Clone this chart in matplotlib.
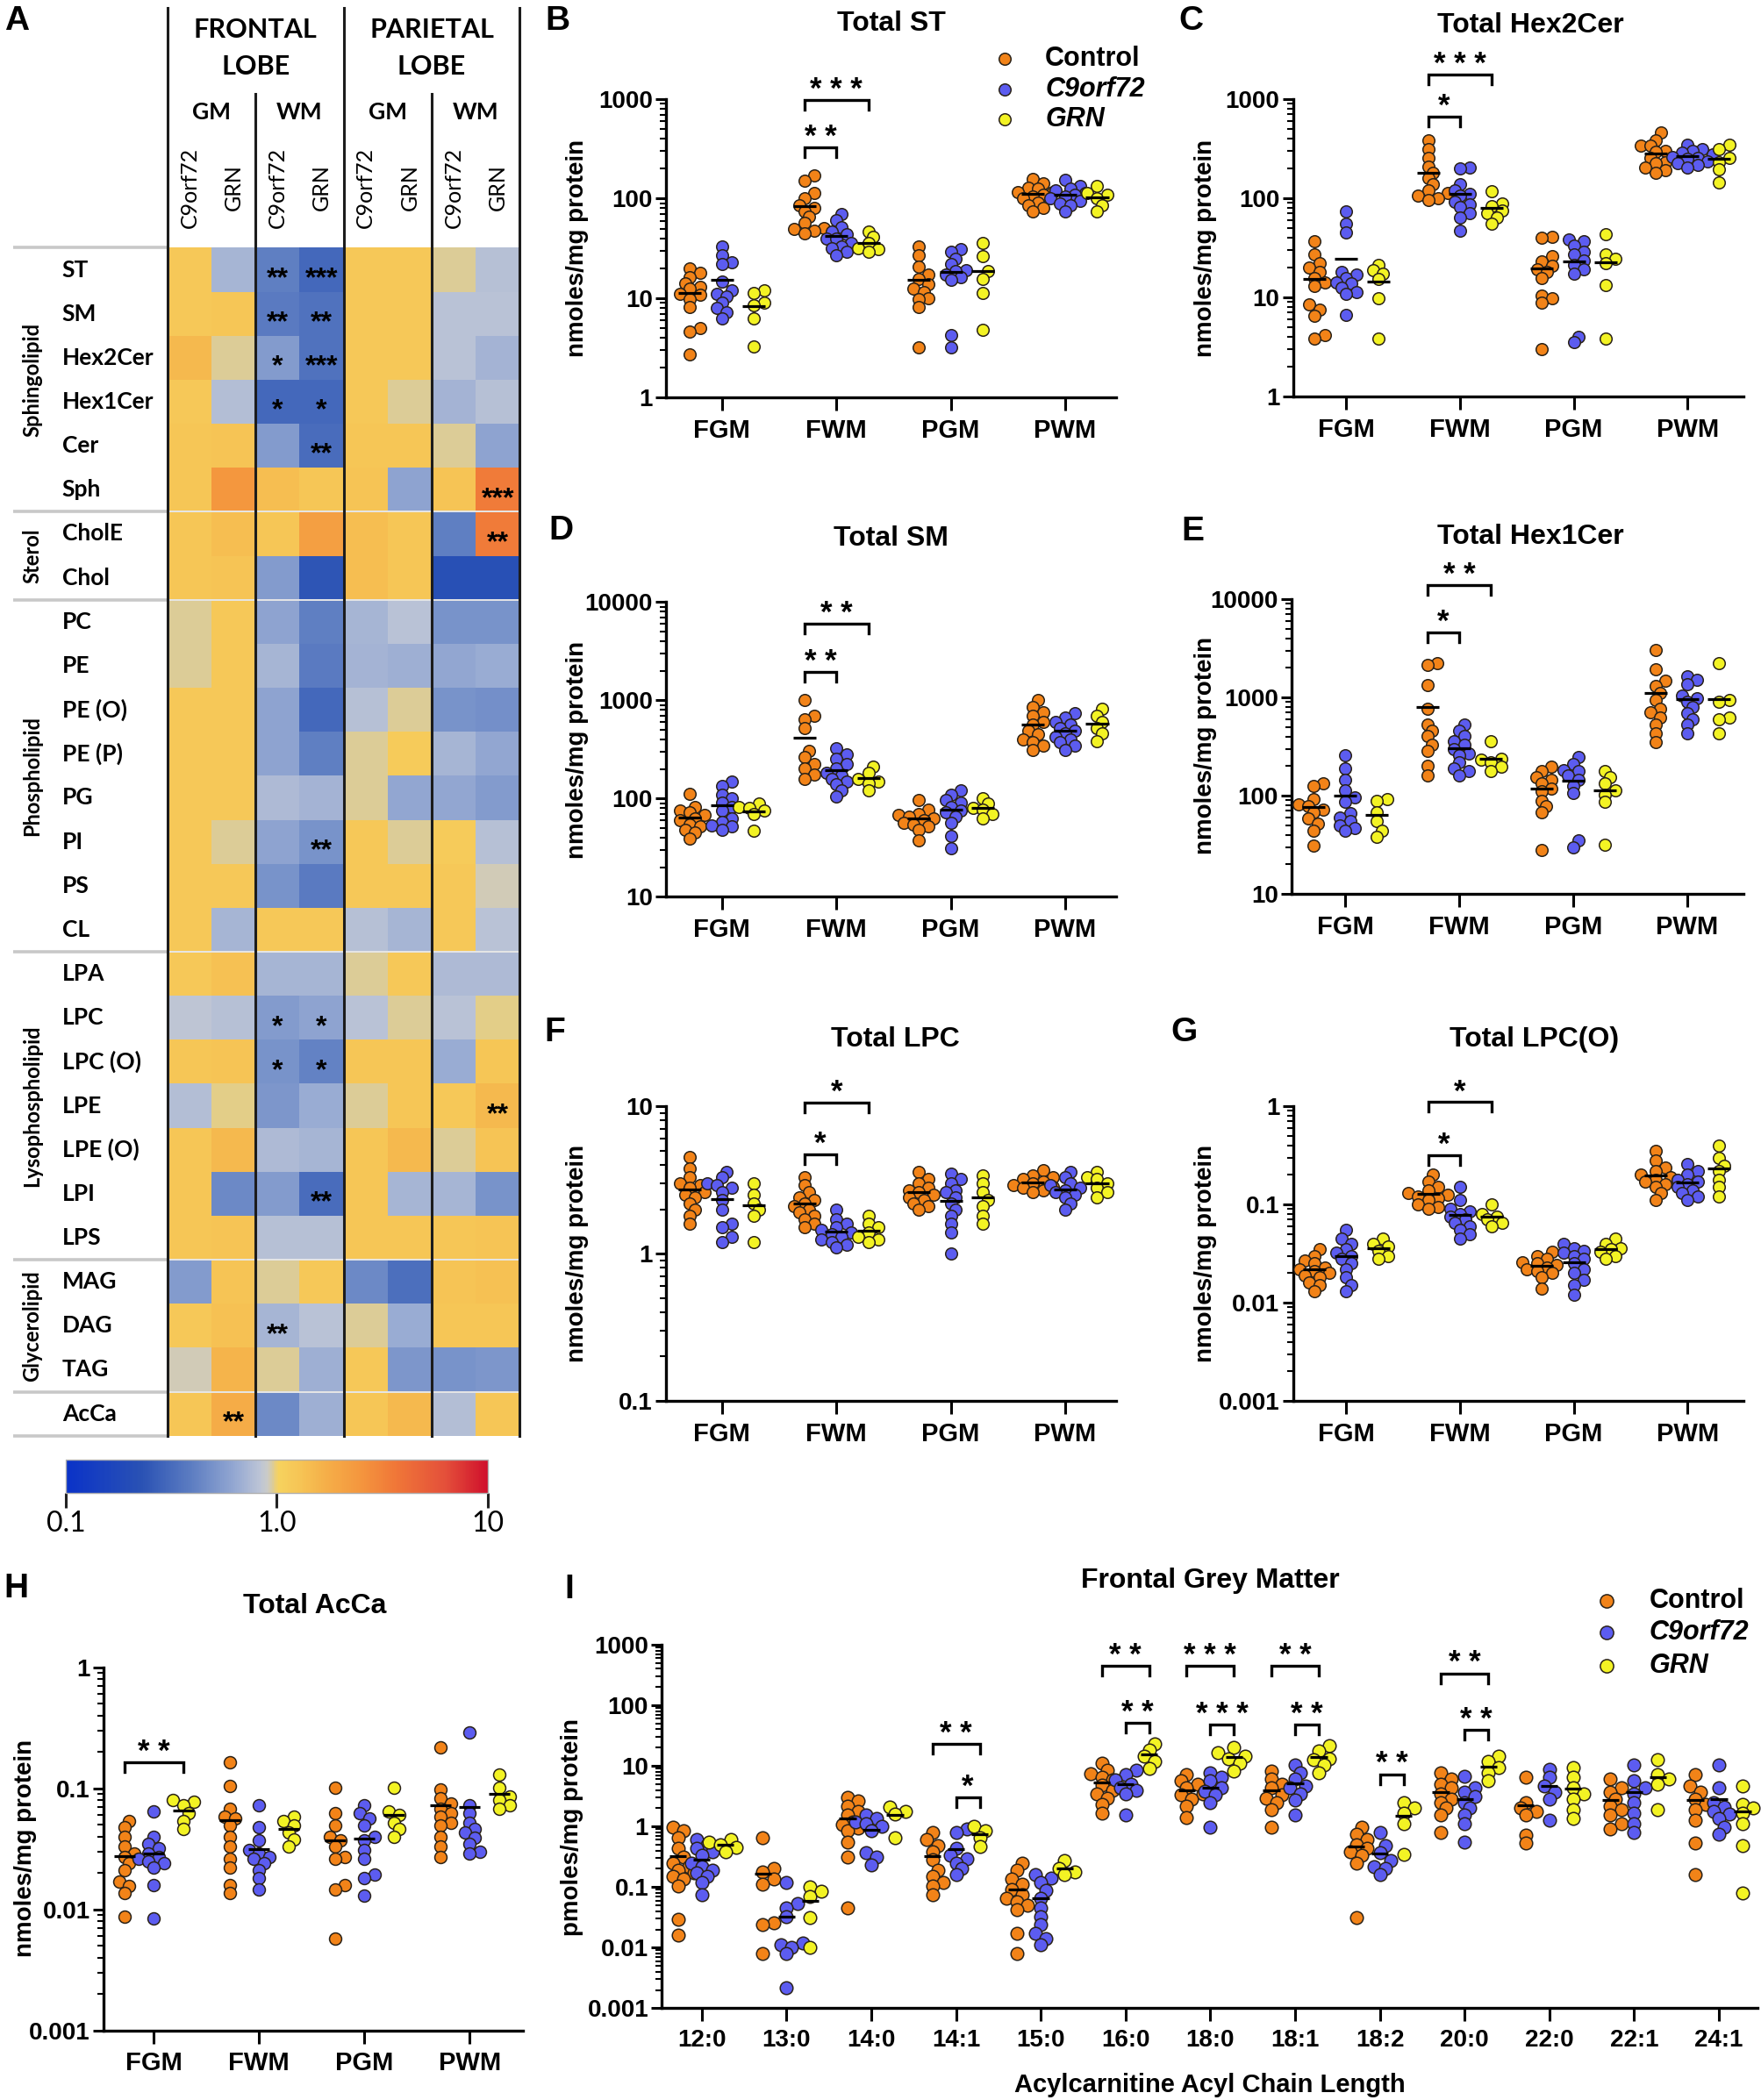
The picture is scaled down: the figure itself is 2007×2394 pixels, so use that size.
import numpy as np
import matplotlib
matplotlib.use("Agg")
import matplotlib.pyplot as plt
from matplotlib.colors import LinearSegmentedColormap, LogNorm
from matplotlib.cm import ScalarMappable
from matplotlib.ticker import LogLocator, NullFormatter

plt.rcParams['font.family'] = ['Liberation Sans', 'DejaVu Sans']
plt.rcParams['font.weight'] = 'bold'

# ---------------- heatmap (panel A) ----------------
LIPIDS = ["ST", "SM", "Hex2Cer", "Hex1Cer", "Cer", "Sph", "CholE", "Chol",
          "PC", "PE", "PE (O)", "PE (P)", "PG", "PI", "PS", "CL",
          "LPA", "LPC", "LPC (O)", "LPE", "LPE (O)", "LPI", "LPS",
          "MAG", "DAG", "TAG", "AcCa"]
CLASS_NAMES = ["Sphingolipid", "Sterol", "Phospholipid", "Lysophospholipid", "Glycerolipid", ""]
CLASS_SIZES = [6, 2, 8, 7, 3, 1]
LOBES = ["FRONTAL", "PARIETAL"]
TISSUES = ["GM", "WM", "GM", "WM"]
GENOTYPES = ["C9orf72", "GRN"] * 4

# fold change vs control, columns: FGM C9, FGM GRN, FWM C9, FWM GRN, PGM C9, PGM GRN, PWM C9, PWM GRN
FOLD = [
    [1.2, 0.72, 0.40, 0.30, 1.2, 1.2, 0.95, 0.80],
    [1.2, 1.25, 0.38, 0.34, 1.2, 1.2, 0.82, 0.82],
    [1.5, 0.95, 0.55, 0.34, 1.2, 1.2, 0.82, 0.70],
    [1.2, 0.78, 0.30, 0.30, 1.2, 0.95, 0.70, 0.80],
    [1.25, 1.3, 0.55, 0.32, 1.25, 1.25, 0.95, 0.60],
    [1.25, 2.5, 1.4, 1.25, 1.3, 0.60, 1.3, 3.5],
    [1.25, 1.4, 1.25, 2.2, 1.4, 1.25, 0.40, 3.5],
    [1.25, 1.3, 0.55, 0.24, 1.4, 1.25, 0.22, 0.22],
    [0.95, 1.2, 0.60, 0.40, 0.72, 0.82, 0.50, 0.50],
    [0.95, 1.2, 0.72, 0.38, 0.70, 0.68, 0.62, 0.65],
    [1.2, 1.2, 0.60, 0.30, 0.80, 0.95, 0.50, 0.48],
    [1.2, 1.2, 0.60, 0.40, 0.95, 1.15, 0.72, 0.62],
    [1.2, 1.2, 0.75, 0.70, 0.95, 0.62, 0.62, 0.55],
    [1.2, 0.95, 0.60, 0.50, 1.2, 0.95, 1.15, 0.80],
    [1.2, 1.2, 0.50, 0.38, 1.2, 1.2, 1.2, 0.92],
    [1.2, 0.72, 1.2, 1.2, 0.80, 0.72, 1.2, 0.82],
    [1.2, 1.35, 0.72, 0.72, 0.95, 1.2, 0.75, 0.75],
    [0.85, 0.80, 0.55, 0.60, 0.82, 0.95, 0.82, 0.98],
    [1.25, 1.3, 0.50, 0.42, 1.25, 1.25, 0.65, 1.25],
    [0.78, 0.97, 0.52, 0.65, 0.95, 1.25, 1.2, 1.5],
    [1.25, 1.5, 0.75, 0.72, 1.25, 1.5, 0.95, 1.3],
    [1.25, 0.45, 0.55, 0.32, 1.25, 0.72, 0.72, 0.50],
    [1.25, 1.3, 0.80, 0.80, 1.25, 1.25, 1.25, 1.3],
    [0.55, 1.3, 0.95, 1.2, 0.45, 0.33, 1.3, 1.35],
    [1.2, 1.35, 0.72, 0.82, 0.95, 0.65, 1.25, 1.25],
    [0.92, 1.6, 0.95, 0.68, 1.2, 0.52, 0.50, 0.52],
    [1.25, 1.8, 0.45, 0.68, 1.25, 1.5, 0.78, 1.25],
]
HEAT_STARS = [("ST", 2, "**"), ("ST", 3, "***"), ("SM", 2, "**"), ("SM", 3, "**"),
              ("Hex2Cer", 2, "*"), ("Hex2Cer", 3, "***"), ("Hex1Cer", 2, "*"),
              ("Hex1Cer", 3, "*"), ("Cer", 3, "**"), ("Sph", 7, "***"), ("CholE", 7, "**"),
              ("PI", 3, "**"), ("LPC", 2, "*"), ("LPC", 3, "*"), ("LPC (O)", 2, "*"),
              ("LPC (O)", 3, "*"), ("LPE", 7, "**"), ("LPI", 3, "**"), ("DAG", 2, "**"),
              ("AcCa", 1, "**")]

# ---------------- dot plots (panels B-H) ----------------
REGIONS = ["FGM", "FWM", "PGM", "PWM"]
GENO_NAMES = ["Control", "C9orf72", "GRN"]

ST_CTRL = [[20, 18, 16.3, 14.2, 13, 12.4, 11, 10.8, 9.8, 8.2, 5.0, 4.6, 2.7],
           [170, 150, 113, 100, 86, 80, 75, 66, 57, 51, 50, 48, 45],
           [33, 27, 20.7, 17.4, 15.7, 13.7, 12.5, 11.6, 10, 9.8, 8.2, 3.2],
           [159, 144, 130, 125, 117, 117, 110, 106, 100, 92, 86, 80, 75]]
ST_C9 = [[33, 27, 23, 22, 14.7, 12, 11, 10.5, 9.1, 8, 7.2, 6.3],
         [70, 61, 52, 46.8, 43.7, 40, 39.5, 35.7, 33, 32, 29, 27],
         [31, 29, 25, 22, 19.3, 18.6, 17.4, 16.3, 15.2, 4.3, 3.2],
         [154, 134, 125, 120, 113, 110, 106, 100, 95, 90, 86, 75]]
ST_GRN = [[12, 11.2, 9.1, 8.5, 6.3, 3.3],
          [46.8, 41, 35.7, 32, 31, 29],
          [35.7, 26.2, 18.6, 15.7, 11.2, 4.8],
          [134, 113, 109, 100, 86, 75]]

HEX2_CTRL = [[37, 27, 22, 20, 18, 15.7, 14.2, 13, 8.5, 7.5, 6.5, 4.2, 3.8],
             [386, 315, 257, 209, 182, 159, 139, 121, 113, 106, 100, 96],
             [41, 40, 26, 23, 21, 19.3, 18, 15.7, 10.5, 9.8, 8.8, 3.0],
             [458, 386, 337, 337, 300, 294, 257, 232, 225, 202, 190, 182]]
HEX2_C9 = [[73, 55, 45, 18, 17, 15.7, 14.2, 13.8, 12.4, 11.2, 10.8, 6.7],
           [202, 198, 139, 121, 110, 106, 92, 86, 81, 70, 64, 47],
           [38, 37, 33, 29, 27, 23.7, 21.3, 19.3, 17.4, 4.0, 3.5],
           [348, 315, 300, 290, 275, 260, 257, 248, 235, 224, 215, 202]]
HEX2_GRN = [[21.3, 18.6, 17.4, 15.2, 9.8, 3.8],
            [117, 89, 84, 75, 70, 64, 55],
            [43.7, 27, 24.5, 22, 13.3, 3.8],
            [348, 315, 257, 232, 195, 144]]

SM_CTRL = [[113, 83, 75, 73, 68, 63, 61, 55, 52, 48, 45, 39],
           [1010, 693, 647, 526, 305, 267, 225, 203, 177, 160],
           [96, 78, 70, 68, 65, 63, 61, 57, 55, 52, 48, 38],
           [1010, 853, 750, 693, 600, 565, 493, 450, 402, 380, 350, 316]]
SM_C9 = [[149, 134, 110, 101, 92, 83, 75, 63, 58, 53, 52, 48],
         [327, 285, 257, 225, 203, 183, 171, 160, 149, 139, 121, 106],
         [121, 110, 96, 92, 83, 75, 72, 66, 57, 42, 31],
         [743, 670, 600, 565, 526, 493, 460, 430, 400, 375, 350, 316]]
SM_GRN = [[89, 83, 81, 75, 70, 47],
          [210, 183, 160, 149, 144, 121],
          [102, 89, 81, 78, 70, 63],
          [824, 700, 605, 526, 460, 388]]

HEX1_CTRL = [[134, 126, 92, 81, 78, 72, 68, 59, 52, 44, 31],
             [2220, 2150, 1330, 769, 528, 460, 402, 327, 285, 203, 160],
             [196, 177, 154, 144, 134, 118, 110, 89, 78, 68, 28],
             [3020, 1940, 1470, 1300, 1120, 944, 769, 700, 626, 528, 430, 350]]
HEX1_C9 = [[258, 189, 144, 113, 96, 86, 66, 60, 55, 50, 47, 44],
           [528, 460, 402, 362, 327, 295, 267, 258, 217, 190, 177, 160],
           [249, 210, 183, 177, 160, 144, 126, 106, 35, 30],
           [1630, 1500, 1370, 1050, 980, 912, 795, 693, 605, 528, 430]]
HEX1_GRN = [[92, 89, 68, 55, 44, 38],
            [362, 240, 232, 217, 196, 177],
            [177, 154, 134, 113, 103, 86, 32],
            [2220, 944, 912, 626, 605, 430]]

LPC_CTRL = [[4.5, 3.8, 3.3, 3.0, 2.9, 2.8, 2.6, 2.5, 2.4, 2.2, 2.0, 1.8, 1.6],
            [3.3, 2.9, 2.6, 2.4, 2.3, 2.2, 2.1, 2.0, 1.9, 1.8, 1.7, 1.6, 1.5],
            [3.6, 3.2, 3.0, 2.8, 2.7, 2.6, 2.5, 2.4, 2.3, 2.2, 2.1, 2.0],
            [3.7, 3.4, 3.3, 3.2, 3.1, 3.0, 2.9, 2.85, 2.8, 2.7, 2.6]]
LPC_C9 = [[3.6, 3.3, 3.0, 2.9, 2.8, 2.6, 2.3, 2.0, 1.6, 1.5, 1.3, 1.2],
          [2.0, 1.7, 1.6, 1.5, 1.45, 1.4, 1.35, 1.3, 1.25, 1.2, 1.15, 1.1],
          [3.5, 3.2, 3.0, 2.7, 2.6, 2.4, 2.2, 2.0, 1.8, 1.6, 1.4, 1.0],
          [3.6, 3.3, 3.0, 2.9, 2.8, 2.7, 2.6, 2.5, 2.4, 2.2, 2.0]]
LPC_GRN = [[3.0, 2.5, 2.2, 2.0, 1.8, 1.2],
           [1.8, 1.6, 1.5, 1.4, 1.3, 1.25, 1.2],
           [3.4, 3.0, 2.6, 2.3, 2.1, 1.8, 1.6],
           [3.6, 3.3, 3.2, 3.0, 2.8, 2.6, 2.4]]

LPCO_CTRL = [[0.035, 0.03, 0.027, 0.025, 0.023, 0.022, 0.021, 0.02, 0.019, 0.018, 0.016, 0.015, 0.013],
             [0.2, 0.17, 0.15, 0.14, 0.13, 0.125, 0.12, 0.115, 0.11, 0.1, 0.095, 0.09],
             [0.033, 0.03, 0.028, 0.026, 0.025, 0.024, 0.023, 0.022, 0.021, 0.02, 0.018, 0.014],
             [0.35, 0.28, 0.24, 0.22, 0.2, 0.19, 0.18, 0.17, 0.16, 0.15, 0.13, 0.11]]
LPCO_C9 = [[0.055, 0.045, 0.04, 0.035, 0.032, 0.03, 0.028, 0.025, 0.022, 0.018, 0.015, 0.013],
           [0.15, 0.11, 0.09, 0.085, 0.08, 0.075, 0.07, 0.065, 0.06, 0.055, 0.05, 0.045],
           [0.04, 0.036, 0.034, 0.032, 0.03, 0.028, 0.025, 0.022, 0.02, 0.017, 0.015, 0.012],
           [0.26, 0.22, 0.2, 0.18, 0.17, 0.16, 0.15, 0.14, 0.13, 0.12, 0.11]]
LPCO_GRN = [[0.045, 0.04, 0.037, 0.034, 0.03, 0.028],
            [0.1, 0.08, 0.075, 0.07, 0.065, 0.06],
            [0.045, 0.04, 0.036, 0.035, 0.033, 0.03, 0.028],
            [0.4, 0.3, 0.25, 0.22, 0.18, 0.15, 0.12]]

ACCA_CTRL = [[0.054, 0.048, 0.040, 0.033, 0.029, 0.027, 0.024, 0.021, 0.017, 0.0157, 0.0137, 0.0087],
             [0.165, 0.105, 0.068, 0.058, 0.056, 0.049, 0.040, 0.033, 0.026, 0.022, 0.016, 0.0137],
             [0.101, 0.062, 0.049, 0.040, 0.037, 0.033, 0.027, 0.026, 0.016, 0.0147, 0.0057],
             [0.22, 0.098, 0.083, 0.075, 0.068, 0.062, 0.058, 0.052, 0.049, 0.040, 0.033, 0.027]]
ACCA_C9 = [[0.064, 0.040, 0.035, 0.032, 0.029, 0.027, 0.026, 0.0248, 0.024, 0.0223, 0.016, 0.0084],
           [0.073, 0.048, 0.037, 0.031, 0.029, 0.027, 0.026, 0.024, 0.021, 0.018, 0.0147],
           [0.073, 0.062, 0.056, 0.049, 0.040, 0.037, 0.031, 0.026, 0.0195, 0.018, 0.0129],
           [0.288, 0.073, 0.062, 0.052, 0.046, 0.043, 0.039, 0.035, 0.030, 0.029]]
ACCA_GRN = [[0.080, 0.078, 0.073, 0.062, 0.054, 0.046],
            [0.058, 0.054, 0.049, 0.043, 0.038, 0.033],
            [0.101, 0.064, 0.060, 0.052, 0.046, 0.040],
            [0.131, 0.101, 0.086, 0.080, 0.073, 0.068]]

# ---------------- acylcarnitine species (panel I) ----------------
AC_CHAINS = ["12:0", "13:0", "14:0", "14:1", "15:0", "16:0", "18:0", "18:1",
             "18:2", "20:0", "22:0", "22:1", "24:1"]
AC_CTRL = [[0.97, 0.85, 0.65, 0.43, 0.31, 0.25, 0.22, 0.19, 0.17, 0.15, 0.137, 0.104, 0.029, 0.016],
           [0.65, 0.20, 0.18, 0.137, 0.11, 0.026, 0.024, 0.008],
           [3.0, 2.6, 2.15, 1.8, 1.53, 1.2, 1.09, 0.95, 0.85, 0.56, 0.31, 0.046],
           [0.8, 0.6, 0.49, 0.38, 0.28, 0.19, 0.15, 0.12, 0.104, 0.074],
           [0.25, 0.19, 0.137, 0.11, 0.091, 0.075, 0.065, 0.057, 0.05, 0.042, 0.017, 0.008],
           [10.9, 8.5, 7.5, 6.6, 5.8, 4.8, 3.9, 3.4, 2.9, 2.3, 1.65],
           [7.3, 5.6, 5.0, 4.3, 3.5, 3.3, 2.85, 2.15, 1.42],
           [8.3, 6.0, 4.9, 4.3, 3.3, 2.9, 2.5, 1.9, 0.97],
           [0.97, 0.74, 0.6, 0.5, 0.43, 0.38, 0.33, 0.25, 0.031],
           [7.8, 6.0, 5.0, 4.3, 3.5, 2.85, 2.5, 2.0, 1.55, 0.79],
           [6.4, 2.5, 2.0, 1.8, 1.55, 0.72, 0.53],
           [6.0, 4.3, 3.7, 2.85, 2.15, 1.9, 1.55, 1.1, 0.9],
           [7.3, 4.6, 3.7, 2.85, 2.3, 1.9, 1.27, 0.53, 0.16]]
AC_C9 = [[0.60, 0.5, 0.43, 0.38, 0.33, 0.25, 0.22, 0.19, 0.17, 0.15, 0.12, 0.074],
         [0.12, 0.053, 0.045, 0.033, 0.012, 0.011, 0.01, 0.008, 0.0022],
         [1.53, 1.35, 1.2, 1.1, 1.0, 0.85, 0.37, 0.31, 0.234],
         [0.9, 0.8, 0.43, 0.33, 0.29, 0.25, 0.2, 0.16],
         [0.16, 0.14, 0.12, 0.087, 0.065, 0.046, 0.033, 0.024, 0.017, 0.014, 0.011],
         [8.5, 7.1, 5.8, 5.0, 4.3, 3.9, 3.4, 1.55],
         [7.8, 6.4, 5.6, 4.3, 3.8, 3.3, 2.5, 0.97],
         [10.3, 7.8, 6.0, 4.6, 4.3, 3.5, 2.7, 1.55],
         [0.79, 0.49, 0.37, 0.27, 0.22, 0.2, 0.16],
         [6.8, 4.3, 3.7, 3.1, 2.5, 2.0, 1.55, 1.1, 0.56],
         [8.9, 6.4, 4.6, 3.7, 2.85, 1.27],
         [10.3, 5.6, 4.3, 3.5, 2.5, 1.65, 1.1, 0.79],
         [10.3, 4.3, 2.5, 2.1, 1.8, 1.6, 1.35, 0.97, 0.74]]
AC_GRN = [[0.60, 0.55, 0.5, 0.45, 0.38],
          [0.1, 0.085, 0.07, 0.031, 0.01],
          [2.1, 1.8, 1.6, 0.65],
          [1.0, 0.85, 0.65, 0.46],
          [0.27, 0.2, 0.18, 0.16],
          [23, 18, 14.3, 12, 9.0],
          [20, 16.3, 14.7, 13.3, 10.9, 8.3],
          [21.5, 17.5, 13.3, 12.5, 10.3, 7.8],
          [2.5, 2.0, 1.65, 1.1, 0.35],
          [14.3, 11.7, 9.5, 7.8, 5.6],
          [9.5, 6.4, 4.3, 3.5, 2.85, 1.9, 1.35],
          [12.5, 7.3, 6.0, 5.0, 1.9],
          [4.6, 2.3, 2.0, 1.65, 1.1, 0.49, 0.08]]

# significance brackets: (category, genotype from, genotype to, bracket height, stars)
ST_SIG = [(1, 0, 2, 970, "* * *"), (1, 0, 1, 327, "* *")]
HEX2_SIG = [(1, 0, 2, 1770, "* * *"), (1, 0, 1, 667, "*")]
SM_SIG = [(1, 0, 2, 5980, "* *"), (1, 0, 1, 1930, "* *")]
HEX1_SIG = [(1, 0, 2, 14000, "* *"), (1, 0, 1, 4560, "*")]
LPC_SIG = [(1, 0, 2, 10.6, "*"), (1, 0, 1, 4.7, "*")]
LPCO_SIG = [(1, 0, 2, 1.1, "*"), (1, 0, 1, 0.32, "*")]
ACCA_SIG = [(0, 0, 2, 0.164, "* *")]
AC_SIG = [(3, 0, 2, 23, "* *"), (3, 1, 2, 3.0, "*"),
          (5, 0, 2, 443, "* *"), (5, 1, 2, 51, "* *"),
          (6, 0, 2, 443, "* * *"), (6, 1, 2, 48, "* * *"),
          (7, 0, 2, 443, "* *"), (7, 1, 2, 48, "* *"),
          (8, 1, 2, 7.3, "* *"),
          (9, 0, 2, 337, "* *"), (9, 1, 2, 39, "* *")]

GENO_COLORS = ["#f28318", "#5c5cf0", "#f3f324"]
GENO_SHIFT = [-0.28, 0.0, 0.28]
EDGE = "#2a2218"

# layout grid: reference measured on a 1315 x 1568 copy
W, H = 1315.0, 1568.0
fig = plt.figure(figsize=(20.08, 23.94), dpi=100)


def box(l, t, r, b):
    return [l / W, 1 - b / H, (r - l) / W, (b - t) / H]


def ftext(x, y, s, **kw):
    return fig.text(x / W, 1 - y / H, s, **kw)


# ---------- panel A ----------
cmap = LinearSegmentedColormap.from_list("fc", [
    (0.0, "#0a32c8"), (0.18, "#2a52b4"), (0.30, "#5e7ec2"), (0.40, "#94a8d2"),
    (0.46, "#bcc4d6"), (0.478, "#cacbc8"), (0.49, "#dccc98"), (0.505, "#f6d25e"),
    (0.55, "#f6c656"), (0.62, "#f5ae48"), (0.70, "#f4963e"), (0.78, "#f07838"),
    (0.90, "#e4503a"), (1.0, "#d0102c")])
norm = LogNorm(0.1, 10)
HFONT = ['Lato', 'DejaVu Sans']

axA = fig.add_axes(box(125, 185, 388, 1072))
nrow, ncol = len(LIPIDS), len(GENOTYPES)
axA.pcolormesh(np.arange(ncol + 1), np.arange(nrow + 1), np.array(FOLD), cmap=cmap, norm=norm)
axA.set_xlim(0, ncol)
axA.set_ylim(nrow, 0)
axA.axis('off')

bounds = np.concatenate([[0], np.cumsum(CLASS_SIZES)])
for b in bounds:
    axA.plot([-3.5, 0], [b, b], color="#c8c8c8", lw=2.6, clip_on=False, solid_capstyle='butt')
    if 0 < b < nrow:
        axA.plot([0, ncol], [b, b], color="#e6e6e6", lw=1.4, clip_on=False)
for i, name in enumerate(CLASS_NAMES):
    if name:
        axA.text(-3.07, (bounds[i] + bounds[i + 1]) / 2, name, rotation=90, ha='center',
                 va='center', fontsize=17, family=HFONT, weight='bold')
for r, lip in enumerate(LIPIDS):
    axA.text(-2.39, r + 0.5, lip, ha='left', va='center', fontsize=19, family=HFONT, weight='bold')
for c in range(0, ncol + 1, 2):
    top = -5.45 if c % 4 == 0 else -3.5
    axA.plot([c, c], [top, nrow], color="#1c1c1c", lw=2.2, clip_on=False)
for j, lobe in enumerate(LOBES):
    axA.text(4 * j + 2, -4.96, lobe, ha='center', va='center', fontsize=22, family=HFONT, weight='bold')
    axA.text(4 * j + 2, -4.11, "LOBE", ha='center', va='center', fontsize=22, family=HFONT, weight='bold')
for j, t in enumerate(TISSUES):
    axA.text(2 * j + 1, -3.07, t, ha='center', va='center', fontsize=19, family=HFONT, weight='bold')
for j, g in enumerate(GENOTYPES):
    axA.text(j + 0.5, -1.37, g, rotation=90, ha='center', va='center', fontsize=18,
             family=HFONT, weight='normal')
for lip, col, st in HEAT_STARS:
    axA.text(col + 0.5, LIPIDS.index(lip) + 0.5 + 0.37, st, ha='center', va='baseline',
             fontsize=23, weight='bold', color='k')
ftext(12.5, 16, "A", ha='center', va='center', fontsize=28, weight='bold')

cax = fig.add_axes(box(49, 1090, 364, 1115))
cb = fig.colorbar(ScalarMappable(norm=norm, cmap=cmap), cax=cax, orientation='horizontal',
                  ticks=[0.1, 1, 10])
cb.ax.minorticks_off()
cb.set_ticklabels(["0.1", "1.0", "10"])
cb.outline.set_edgecolor("#b0b0b0")
cb.outline.set_linewidth(1)
cax.tick_params(length=12, width=2.2, color="#222222", labelsize=23, pad=2)
for t in cax.get_xticklabels():
    t.set_family(HFONT)
    t.set_fontweight('normal')


# ---------- dot plots ----------
def swarm(ax, xc, vals, diam, tight=0.62):
    ys = ax.transData.transform(np.column_stack([np.full(len(vals), xc), vals]))[:, 1]
    cand = [0.0]
    for k in range(1, 12):
        cand += [k * 0.42 * diam, -k * 0.42 * diam]
    placed, offs = [], np.zeros(len(vals))
    for i in np.argsort(ys):
        for c in cand:
            if all((c - px) ** 2 + (ys[i] - py) ** 2 >= (tight * diam) ** 2 for px, py in placed):
                break
        placed.append((c, ys[i]))
        offs[i] = c
    x0, x1 = ax.get_xlim()
    return offs * (x1 - x0) / ax.bbox.width


def bracket(ax, x1, x2, ytop, label, drop=11):
    p = ax.transData.transform([(x1, ytop)])[0]
    ylo = ax.transData.inverted().transform([(p[0], p[1] - drop)])[0][1]
    ax.plot([x1, x1, x2, x2], [ylo, ytop, ytop, ylo], color='k', lw=2.4, clip_on=False,
            solid_joinstyle='miter')
    ax.annotate(label, ((x1 + x2) / 2, ytop), xytext=(0, 1.5), textcoords='offset points',
                ha='center', va='baseline', fontsize=25, fontweight='bold', annotation_clip=False)


def dot_panel(rect, xlim, ylim, cats, series, sig, s=95, xfs=21):
    ax = fig.add_axes(box(*rect))
    ax.set_yscale('log')
    ax.set_xlim(*xlim)
    ax.set_ylim(*ylim)
    for sp in ['top', 'right']:
        ax.spines[sp].set_visible(False)
    for sp in ['left', 'bottom']:
        ax.spines[sp].set_linewidth(2.4)
    dec = np.arange(np.log10(ylim[0]), np.log10(ylim[1]) + 0.5)
    yt = 10.0 ** dec
    ax.set_yticks(yt)
    ax.set_yticklabels(["%g" % v for v in yt])
    ax.yaxis.set_minor_locator(LogLocator(base=10, subs=np.arange(2, 10), numticks=30))
    ax.yaxis.set_minor_formatter(NullFormatter())
    ax.set_xticks(np.arange(len(cats)))
    ax.set_xticklabels(cats)
    ax.tick_params(axis='y', which='major', length=9, width=2.2, labelsize=20, pad=2)
    ax.tick_params(axis='y', which='minor', length=5, width=1.5)
    ax.tick_params(axis='x', length=11, width=2.2, labelsize=xfs, pad=6)
    diam = np.sqrt(s) * fig.dpi / 72
    for gi, ser in enumerate(series):
        for k, vals in enumerate(ser):
            v = np.asarray(vals, float)
            xc = k + GENO_SHIFT[gi]
            ax.scatter(xc + swarm(ax, xc, v, diam), v, s=s, c=GENO_COLORS[gi], edgecolors=EDGE,
                       linewidths=1.1, zorder=3 + gi, clip_on=False)
            ax.plot([xc - 0.1, xc + 0.1], [v.mean()] * 2, color='k', lw=2.3, zorder=8,
                    solid_capstyle='butt')
    for k, a, b, ytop, lab in sig:
        bracket(ax, k + GENO_SHIFT[a], k + GENO_SHIFT[b], ytop, lab)
    return ax


def labels(letter, lxy, title, txy, ylab, yxy):
    ftext(*lxy, letter, ha='center', va='center', fontsize=28, weight='bold')
    ftext(*txy, title, ha='center', va='center', fontsize=23, weight='bold')
    ftext(*yxy, ylab, rotation=90, ha='center', va='center', fontsize=20, weight='bold')


NM = "nmoles/mg protein"
dot_panel((497, 74, 833, 297), (-0.49, 3.445), (1, 1000), REGIONS, [ST_CTRL, ST_C9, ST_GRN], ST_SIG)
labels("B", (416, 16), "Total ST", (665, 18), NM, (431, 185))
dot_panel((965, 74, 1301, 296), (-0.47, 3.49), (1, 1000), REGIONS, [HEX2_CTRL, HEX2_C9, HEX2_GRN], HEX2_SIG)
labels("C", (889, 16), "Total Hex2Cer", (1142, 19), NM, (900, 185))
dot_panel((497, 449.6, 833, 669.7), (-0.49, 3.445), (10, 1e4), REGIONS, [SM_CTRL, SM_C9, SM_GRN], SM_SIG)
labels("D", (419, 396), "Total SM", (665, 402), NM, (431, 560))
dot_panel((964, 447.4, 1301, 667.5), (-0.47, 3.49), (10, 1e4), REGIONS, [HEX1_CTRL, HEX1_C9, HEX1_GRN], HEX1_SIG)
labels("E", (890, 397), "Total Hex1Cer", (1142, 401), NM, (900, 557))
dot_panel((497, 826, 833, 1046), (-0.49, 3.445), (0.1, 10), REGIONS, [LPC_CTRL, LPC_C9, LPC_GRN], LPC_SIG)
labels("F", (414, 771), "Total LPC", (668, 776), NM, (431, 936))
dot_panel((965, 826, 1301, 1046), (-0.47, 3.49), (0.001, 1), REGIONS, [LPCO_CTRL, LPCO_C9, LPCO_GRN], LPCO_SIG)
labels("G", (884, 771), "Total LPC(O)", (1145, 776), NM, (900, 936))
dot_panel((77.4, 1245, 390, 1516), (-0.475, 3.5), (0.001, 1), REGIONS, [ACCA_CTRL, ACCA_C9, ACCA_GRN], ACCA_SIG, s=100)
labels("H", (12, 1186), "Total AcCa", (235, 1199), NM, (19, 1380))
dot_panel((494, 1228, 1312, 1499.5), (-0.47, 12.46), (0.001, 1000), AC_CHAINS, [AC_CTRL, AC_C9, AC_GRN], AC_SIG, s=110, xfs=20)
labels("I", (425, 1187), "Frontal Grey Matter", (903, 1180), "pmoles/mg protein", (427, 1364))
ftext(903, 1557, "Acylcarnitine Acyl Chain Length", ha='center', va='center', fontsize=21, weight='bold')

# legends
for (mx, tx, ys, ms) in [(750, 780, (44, 66.5, 89), 95), (1199, 1231, (1195, 1219, 1244), 120)]:
    for gi, name in enumerate(GENO_NAMES):
        fig.add_artist(plt.Line2D([mx / W], [1 - ys[gi] / H], marker='o', markersize=np.sqrt(ms),
                                  markerfacecolor=GENO_COLORS[gi], markeredgecolor=EDGE,
                                  markeredgewidth=1.1, linestyle='none', transform=fig.transFigure))
        ftext(tx, ys[gi], name, ha='left', va='center', fontsize=22, weight='bold',
              style='normal' if gi == 0 else 'italic')

fig.savefig("out.png", dpi=100)
